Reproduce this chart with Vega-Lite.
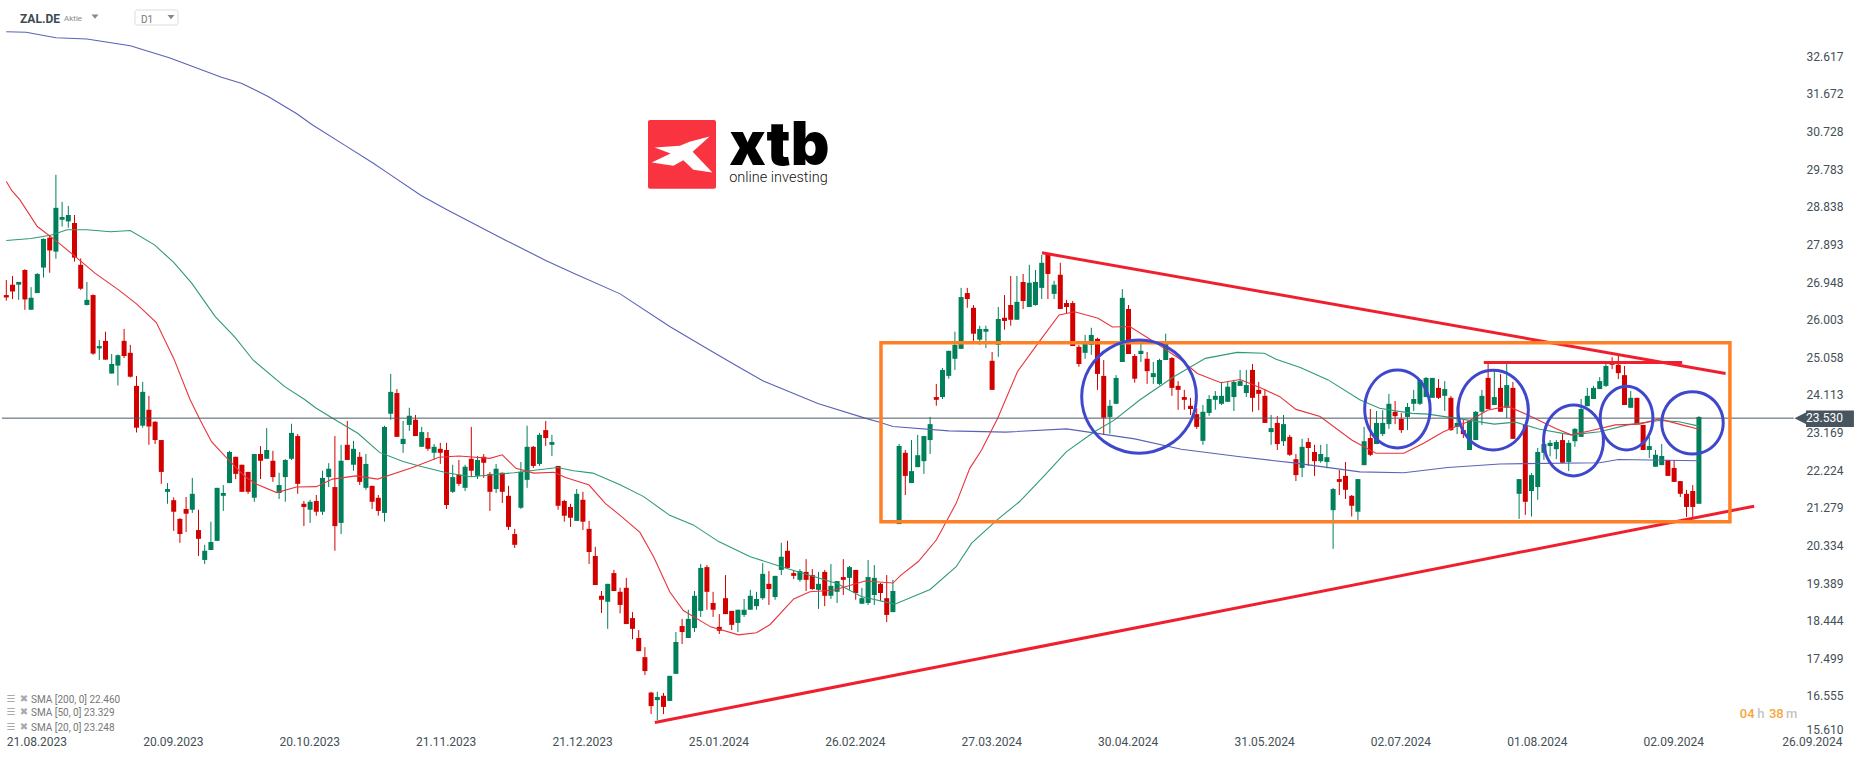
{
  "$schema": "https://vega.github.io/schema/vega-lite/v6.json",
  "width": 1790,
  "height": 734,
  "autosize": "none",
  "padding": {"left": 0, "top": 0, "right": 76, "bottom": 25},
  "background": "white",
  "view": {"stroke": null},
  "config": {"font": "Roboto"},
  "datasets": {
    "candles": [
      {"t":0,"o":26.62,"h":27.00,"l":26.48,"c":26.56},{"t":1,"o":26.88,"h":27.10,"l":26.52,"c":26.71},{"t":2,"o":26.88,"h":26.95,"l":26.50,"c":26.95},{"t":3,"o":27.25,"h":27.27,"l":26.25,"c":26.51},{"t":4,"o":26.25,"h":26.82,"l":26.25,"c":26.55},{"t":5,"o":26.67,"h":27.17,"l":26.67,"c":27.15},{"t":6,"o":27.31,"h":28.04,"l":27.06,"c":28.03},{"t":7,"o":28.06,"h":28.13,"l":27.18,"c":27.74},{"t":8,"o":27.71,"h":29.64,"l":27.53,"c":28.81},{"t":9,"o":28.51,"h":28.96,"l":28.34,"c":28.58},
      {"t":10,"o":28.47,"h":28.86,"l":28.31,"c":28.63},{"t":11,"o":28.43,"h":28.63,"l":27.46,"c":27.56},{"t":12,"o":27.38,"h":27.54,"l":26.75,"c":26.78},{"t":13,"o":26.37,"h":26.95,"l":26.36,"c":26.50},{"t":14,"o":26.62,"h":26.64,"l":25.12,"c":25.15},{"t":15,"o":25.28,"h":25.49,"l":24.99,"c":25.34},{"t":16,"o":25.47,"h":25.70,"l":24.99,"c":25.00},{"t":17,"o":24.65,"h":25.14,"l":24.65,"c":24.89},{"t":18,"o":24.85,"h":25.13,"l":24.35,"c":25.11},{"t":19,"o":25.47,"h":25.77,"l":25.04,"c":25.09},
      {"t":20,"o":25.17,"h":25.37,"l":24.55,"c":24.57},{"t":21,"o":24.34,"h":24.59,"l":23.17,"c":23.29},{"t":22,"o":23.34,"h":24.44,"l":23.29,"c":24.19},{"t":23,"o":23.74,"h":24.09,"l":22.86,"c":23.32},{"t":24,"o":23.44,"h":23.45,"l":22.88,"c":22.98},{"t":25,"o":22.98,"h":22.98,"l":21.88,"c":22.18},{"t":26,"o":21.68,"h":21.90,"l":21.38,"c":21.75},{"t":27,"o":21.47,"h":21.54,"l":20.70,"c":21.18},{"t":28,"o":21.00,"h":21.02,"l":20.40,"c":20.62},{"t":29,"o":21.25,"h":21.55,"l":20.67,"c":21.13},
      {"t":30,"o":21.23,"h":22.03,"l":21.15,"c":21.63},{"t":31,"o":20.72,"h":21.23,"l":20.07,"c":20.50},{"t":32,"o":19.97,"h":20.35,"l":19.87,"c":20.20},{"t":33,"o":20.22,"h":20.93,"l":20.22,"c":20.42},{"t":34,"o":20.45,"h":21.78,"l":20.45,"c":21.78},{"t":35,"o":21.58,"h":21.85,"l":21.20,"c":21.65},{"t":36,"o":21.90,"h":22.71,"l":21.90,"c":22.68},{"t":37,"o":22.56,"h":22.56,"l":22.00,"c":22.13},{"t":38,"o":22.36,"h":22.36,"l":21.68,"c":21.68},{"t":39,"o":22.18,"h":22.18,"l":21.63,"c":21.68},
      {"t":40,"o":21.53,"h":22.63,"l":21.43,"c":22.63},{"t":41,"o":22.63,"h":22.83,"l":22.00,"c":22.46},{"t":42,"o":22.51,"h":23.28,"l":22.51,"c":22.73},{"t":43,"o":22.46,"h":22.71,"l":21.93,"c":22.05},{"t":44,"o":21.65,"h":22.16,"l":21.50,"c":21.85},{"t":45,"o":22.05,"h":22.50,"l":21.43,"c":22.48},{"t":46,"o":22.51,"h":23.39,"l":22.48,"c":23.16},{"t":47,"o":23.08,"h":23.13,"l":21.63,"c":21.88},{"t":48,"o":21.38,"h":21.45,"l":20.82,"c":21.30},{"t":49,"o":21.23,"h":21.48,"l":20.90,"c":21.43},
      {"t":50,"o":21.45,"h":21.60,"l":21.08,"c":21.18},{"t":51,"o":21.18,"h":22.21,"l":21.10,"c":22.03},{"t":52,"o":22.05,"h":22.40,"l":21.80,"c":22.26},{"t":53,"o":21.80,"h":23.08,"l":20.20,"c":20.82},{"t":54,"o":20.90,"h":22.86,"l":20.62,"c":22.46},{"t":55,"o":22.86,"h":23.46,"l":22.48,"c":22.48},{"t":56,"o":22.36,"h":22.96,"l":22.21,"c":22.76},{"t":57,"o":22.56,"h":22.68,"l":21.85,"c":21.93},{"t":58,"o":21.78,"h":22.63,"l":21.73,"c":22.38},{"t":59,"o":21.83,"h":21.83,"l":21.25,"c":21.43},
      {"t":60,"o":21.53,"h":21.60,"l":21.08,"c":21.20},{"t":61,"o":21.15,"h":23.34,"l":20.93,"c":23.31},{"t":62,"o":23.64,"h":24.64,"l":23.49,"c":24.19},{"t":63,"o":24.16,"h":24.26,"l":23.06,"c":23.06},{"t":64,"o":22.88,"h":23.46,"l":22.66,"c":23.01},{"t":65,"o":23.36,"h":23.79,"l":23.21,"c":23.59},{"t":66,"o":23.49,"h":23.61,"l":23.08,"c":23.08},{"t":67,"o":22.81,"h":23.31,"l":22.81,"c":23.18},{"t":68,"o":23.03,"h":23.18,"l":22.71,"c":22.76},{"t":69,"o":22.66,"h":22.88,"l":22.48,"c":22.81},
      {"t":70,"o":22.76,"h":22.91,"l":22.38,"c":22.66},{"t":71,"o":22.73,"h":22.91,"l":21.25,"c":21.35},{"t":72,"o":21.68,"h":22.36,"l":21.65,"c":22.05},{"t":73,"o":22.11,"h":22.48,"l":21.83,"c":21.88},{"t":74,"o":21.78,"h":22.36,"l":21.70,"c":22.31},{"t":75,"o":22.51,"h":23.31,"l":22.05,"c":22.21},{"t":76,"o":22.08,"h":22.58,"l":22.00,"c":22.48},{"t":77,"o":22.56,"h":22.63,"l":22.03,"c":22.41},{"t":78,"o":22.13,"h":22.18,"l":21.20,"c":21.68},{"t":79,"o":21.75,"h":22.38,"l":21.65,"c":22.26},
      {"t":80,"o":22.16,"h":22.16,"l":21.40,"c":21.68},{"t":81,"o":21.58,"h":21.83,"l":20.72,"c":20.80},{"t":82,"o":20.62,"h":20.75,"l":20.27,"c":20.35},{"t":83,"o":21.28,"h":22.43,"l":21.25,"c":22.18},{"t":84,"o":21.98,"h":23.34,"l":21.78,"c":22.81},{"t":85,"o":22.81,"h":22.83,"l":22.28,"c":22.33},{"t":86,"o":22.38,"h":23.16,"l":22.33,"c":23.11},{"t":87,"o":23.23,"h":23.46,"l":22.83,"c":23.03},{"t":88,"o":22.86,"h":23.11,"l":22.58,"c":22.93},{"t":89,"o":22.33,"h":22.33,"l":21.23,"c":21.33},
      {"t":90,"o":21.45,"h":21.48,"l":20.93,"c":21.08},{"t":91,"o":21.30,"h":21.38,"l":20.80,"c":21.03},{"t":92,"o":20.95,"h":21.75,"l":20.95,"c":21.63},{"t":93,"o":21.48,"h":21.68,"l":20.72,"c":20.93},{"t":94,"o":20.75,"h":20.95,"l":19.87,"c":20.17},{"t":95,"o":20.07,"h":20.30,"l":19.34,"c":19.34},{"t":96,"o":19.07,"h":19.19,"l":18.64,"c":18.97},{"t":97,"o":18.92,"h":19.37,"l":18.24,"c":19.37},{"t":98,"o":19.64,"h":19.72,"l":19.19,"c":19.19},{"t":99,"o":19.17,"h":19.27,"l":18.63,"c":18.84},
      {"t":100,"o":19.27,"h":19.52,"l":18.36,"c":18.36},{"t":101,"o":18.51,"h":18.66,"l":17.98,"c":18.24},{"t":102,"o":18.01,"h":18.21,"l":17.68,"c":17.68},{"t":103,"o":17.53,"h":17.78,"l":17.08,"c":17.18},{"t":104,"o":16.64,"h":16.66,"l":16.10,"c":16.30},{"t":105,"o":16.45,"h":16.66,"l":15.95,"c":16.53},{"t":106,"o":16.56,"h":16.63,"l":16.10,"c":16.28},{"t":107,"o":16.43,"h":17.06,"l":16.43,"c":17.06},{"t":108,"o":17.11,"h":18.16,"l":17.11,"c":17.91},{"t":109,"o":18.31,"h":18.49,"l":17.86,"c":18.16},
      {"t":110,"o":18.01,"h":18.72,"l":18.01,"c":18.49},{"t":111,"o":18.26,"h":19.19,"l":18.16,"c":19.07},{"t":112,"o":18.69,"h":19.87,"l":18.54,"c":19.77},{"t":113,"o":19.79,"h":19.84,"l":18.72,"c":19.17},{"t":114,"o":18.89,"h":19.17,"l":18.54,"c":18.72},{"t":115,"o":18.29,"h":18.61,"l":18.11,"c":18.19},{"t":116,"o":19.01,"h":19.59,"l":18.61,"c":18.61},{"t":117,"o":18.69,"h":18.69,"l":18.21,"c":18.34},{"t":118,"o":18.39,"h":18.72,"l":18.16,"c":18.72},{"t":119,"o":18.59,"h":18.99,"l":18.54,"c":18.72},
      {"t":120,"o":18.72,"h":19.22,"l":18.72,"c":19.07},{"t":121,"o":18.81,"h":19.17,"l":18.72,"c":18.99},{"t":122,"o":19.01,"h":19.89,"l":18.97,"c":19.62},{"t":123,"o":19.37,"h":19.69,"l":18.84,"c":19.24},{"t":124,"o":19.04,"h":19.57,"l":18.97,"c":19.57},{"t":125,"o":19.72,"h":20.40,"l":19.59,"c":20.05},{"t":126,"o":20.20,"h":20.45,"l":19.77,"c":19.77},{"t":127,"o":19.64,"h":19.72,"l":19.49,"c":19.57},{"t":128,"o":19.47,"h":19.74,"l":19.42,"c":19.69},{"t":129,"o":19.67,"h":19.99,"l":19.19,"c":19.47},
      {"t":130,"o":19.59,"h":19.74,"l":19.22,"c":19.24},{"t":131,"o":19.22,"h":19.67,"l":18.74,"c":19.37},{"t":132,"o":19.67,"h":19.72,"l":18.81,"c":19.07},{"t":133,"o":19.07,"h":19.87,"l":18.99,"c":19.32},{"t":134,"o":19.17,"h":19.44,"l":18.89,"c":19.44},{"t":135,"o":19.54,"h":19.99,"l":19.09,"c":19.47},{"t":136,"o":19.52,"h":19.82,"l":19.22,"c":19.79},{"t":137,"o":19.72,"h":19.72,"l":18.97,"c":19.14},{"t":138,"o":18.87,"h":19.27,"l":18.87,"c":19.01},{"t":139,"o":18.89,"h":19.97,"l":18.84,"c":19.54},
      {"t":140,"o":19.09,"h":19.84,"l":18.84,"c":19.52},{"t":141,"o":19.37,"h":19.39,"l":18.94,"c":19.14},{"t":142,"o":19.01,"h":19.59,"l":18.41,"c":18.59},{"t":143,"o":18.66,"h":19.47,"l":18.66,"c":19.19},{"t":144,"o":20.87,"h":22.88,"l":20.87,"c":22.83},{"t":145,"o":22.66,"h":22.73,"l":21.60,"c":22.08},{"t":146,"o":21.90,"h":22.98,"l":21.90,"c":22.20},{"t":147,"o":22.30,"h":23.11,"l":22.30,"c":22.60},{"t":148,"o":22.45,"h":23.08,"l":22.13,"c":23.08},{"t":149,"o":22.98,"h":23.56,"l":22.63,"c":23.38},
      {"t":150,"o":24.06,"h":24.39,"l":23.84,"c":23.99},{"t":151,"o":24.06,"h":24.79,"l":24.01,"c":24.74},{"t":152,"o":24.59,"h":25.22,"l":24.52,"c":25.22},{"t":153,"o":25.02,"h":25.70,"l":24.74,"c":25.37},{"t":154,"o":25.27,"h":26.80,"l":25.27,"c":26.57},{"t":155,"o":26.67,"h":26.80,"l":26.30,"c":26.52},{"t":156,"o":26.30,"h":26.37,"l":25.47,"c":25.65},{"t":157,"o":25.50,"h":25.85,"l":25.37,"c":25.77},{"t":158,"o":25.70,"h":25.85,"l":25.29,"c":25.77},{"t":159,"o":24.97,"h":25.19,"l":24.24,"c":24.24},
      {"t":160,"o":25.37,"h":26.32,"l":25.07,"c":26.02},{"t":161,"o":26.05,"h":26.62,"l":25.75,"c":25.97},{"t":162,"o":26.37,"h":27.10,"l":25.85,"c":26.00},{"t":163,"o":26.00,"h":27.10,"l":26.00,"c":26.45},{"t":164,"o":26.95,"h":27.15,"l":26.27,"c":26.47},{"t":165,"o":26.32,"h":27.38,"l":26.32,"c":26.93},{"t":166,"o":26.37,"h":27.25,"l":26.35,"c":26.95},{"t":167,"o":26.80,"h":27.63,"l":26.52,"c":27.43},{"t":168,"o":27.63,"h":27.68,"l":26.52,"c":27.15},{"t":169,"o":26.65,"h":26.98,"l":26.52,"c":26.88},
      {"t":170,"o":27.13,"h":27.43,"l":26.27,"c":26.27},{"t":171,"o":26.42,"h":26.50,"l":26.16,"c":26.32},{"t":172,"o":26.42,"h":26.47,"l":25.34,"c":25.34},{"t":173,"o":25.32,"h":25.37,"l":24.82,"c":24.89},{"t":174,"o":25.17,"h":25.62,"l":25.02,"c":25.39},{"t":175,"o":25.37,"h":25.80,"l":25.12,"c":25.62},{"t":176,"o":25.52,"h":25.55,"l":24.24,"c":24.64},{"t":177,"o":24.59,"h":24.99,"l":23.11,"c":23.54},{"t":178,"o":23.56,"h":23.99,"l":23.14,"c":23.84},{"t":179,"o":23.89,"h":24.61,"l":23.89,"c":24.54},
      {"t":180,"o":24.94,"h":26.77,"l":24.94,"c":26.55},{"t":181,"o":26.27,"h":26.37,"l":25.14,"c":25.14},{"t":182,"o":25.09,"h":25.14,"l":24.42,"c":24.52},{"t":183,"o":25.14,"h":25.39,"l":24.94,"c":25.22},{"t":184,"o":25.02,"h":25.19,"l":24.39,"c":24.71},{"t":185,"o":24.56,"h":24.94,"l":24.39,"c":24.66},{"t":186,"o":24.39,"h":25.02,"l":24.36,"c":24.99},{"t":187,"o":24.99,"h":25.65,"l":24.99,"c":25.39},{"t":188,"o":25.04,"h":25.06,"l":24.09,"c":24.29},{"t":189,"o":24.34,"h":24.46,"l":23.74,"c":24.24},
      {"t":190,"o":24.06,"h":24.24,"l":23.74,"c":23.99},{"t":191,"o":23.84,"h":24.04,"l":23.61,"c":23.76},{"t":192,"o":23.63,"h":23.78,"l":23.26,"c":23.31},{"t":193,"o":22.96,"h":23.86,"l":22.86,"c":23.69},{"t":194,"o":23.66,"h":24.11,"l":23.59,"c":24.01},{"t":195,"o":23.99,"h":24.21,"l":23.74,"c":24.09},{"t":196,"o":23.89,"h":24.44,"l":23.86,"c":24.09},{"t":197,"o":23.94,"h":24.44,"l":23.94,"c":24.32},{"t":198,"o":24.06,"h":24.49,"l":23.71,"c":24.44},{"t":199,"o":24.34,"h":24.74,"l":24.34,"c":24.46},
      {"t":200,"o":24.16,"h":24.74,"l":24.06,"c":24.36},{"t":201,"o":24.74,"h":24.89,"l":23.69,"c":24.04},{"t":202,"o":24.24,"h":24.44,"l":23.73,"c":24.14},{"t":203,"o":24.09,"h":24.26,"l":23.41,"c":23.41},{"t":204,"o":23.18,"h":23.61,"l":22.86,"c":23.28},{"t":205,"o":23.41,"h":23.58,"l":22.73,"c":22.88},{"t":206,"o":22.95,"h":23.61,"l":22.83,"c":23.38},{"t":207,"o":23.06,"h":23.11,"l":22.58,"c":22.61},{"t":208,"o":22.50,"h":22.63,"l":21.95,"c":22.10},{"t":209,"o":22.28,"h":23.01,"l":22.05,"c":22.81},
      {"t":210,"o":22.93,"h":23.03,"l":22.33,"c":22.78},{"t":211,"o":22.68,"h":22.86,"l":22.08,"c":22.45},{"t":212,"o":22.45,"h":22.86,"l":22.41,"c":22.63},{"t":213,"o":22.43,"h":22.88,"l":22.27,"c":22.55},{"t":214,"o":21.22,"h":21.78,"l":20.25,"c":21.75},{"t":215,"o":22.00,"h":22.23,"l":21.60,"c":21.93},{"t":216,"o":22.08,"h":22.43,"l":21.50,"c":21.73},{"t":217,"o":21.58,"h":21.60,"l":21.06,"c":21.33},{"t":218,"o":21.18,"h":22.00,"l":20.97,"c":22.00},{"t":219,"o":22.35,"h":23.31,"l":22.35,"c":22.95},
      {"t":220,"o":23.03,"h":23.76,"l":22.58,"c":22.61},{"t":221,"o":22.88,"h":23.71,"l":22.88,"c":23.41},{"t":222,"o":23.13,"h":23.73,"l":23.08,"c":23.41},{"t":223,"o":23.38,"h":24.14,"l":23.26,"c":23.89},{"t":224,"o":23.69,"h":23.96,"l":23.38,"c":23.58},{"t":225,"o":23.51,"h":23.66,"l":23.16,"c":23.23},{"t":226,"o":23.56,"h":23.91,"l":23.23,"c":23.81},{"t":227,"o":23.89,"h":24.24,"l":23.71,"c":24.01},{"t":228,"o":23.89,"h":24.49,"l":23.86,"c":24.49},{"t":229,"o":24.06,"h":24.56,"l":24.06,"c":24.54},
      {"t":230,"o":24.04,"h":24.54,"l":24.04,"c":24.54},{"t":231,"o":24.29,"h":24.51,"l":24.01,"c":24.04},{"t":232,"o":24.09,"h":24.46,"l":23.71,"c":24.26},{"t":233,"o":24.04,"h":24.09,"l":23.21,"c":23.23},{"t":234,"o":23.31,"h":23.82,"l":23.13,"c":23.41},{"t":235,"o":23.23,"h":23.48,"l":23.03,"c":23.13},{"t":236,"o":22.73,"h":23.48,"l":22.73,"c":23.46},{"t":237,"o":22.98,"h":23.71,"l":22.98,"c":23.69},{"t":238,"o":23.69,"h":24.24,"l":23.36,"c":24.09},{"t":239,"o":24.54,"h":24.89,"l":23.76,"c":23.76},
      {"t":240,"o":23.86,"h":24.74,"l":23.86,"c":24.06},{"t":241,"o":24.29,"h":24.64,"l":23.69,"c":23.69},{"t":242,"o":23.79,"h":24.89,"l":23.53,"c":24.36},{"t":243,"o":24.29,"h":24.44,"l":23.01,"c":23.01},{"t":244,"o":21.63,"h":22.00,"l":21.00,"c":22.00},{"t":245,"o":23.36,"h":23.36,"l":21.10,"c":21.43},{"t":246,"o":21.70,"h":22.15,"l":21.06,"c":22.10},{"t":247,"o":21.80,"h":22.78,"l":21.48,"c":22.68},{"t":248,"o":22.66,"h":22.98,"l":22.48,"c":22.88},{"t":249,"o":22.83,"h":22.98,"l":22.57,"c":22.91},
      {"t":250,"o":22.75,"h":22.98,"l":22.50,"c":22.93},{"t":251,"o":22.98,"h":23.13,"l":22.40,"c":22.41},{"t":252,"o":22.43,"h":22.98,"l":22.20,"c":22.91},{"t":253,"o":22.95,"h":23.28,"l":22.81,"c":23.26},{"t":254,"o":23.06,"h":24.01,"l":23.06,"c":23.76},{"t":255,"o":23.83,"h":24.29,"l":23.83,"c":24.09},{"t":256,"o":24.01,"h":24.34,"l":24.01,"c":24.29},{"t":257,"o":24.26,"h":24.56,"l":24.26,"c":24.46},{"t":258,"o":24.34,"h":24.89,"l":24.31,"c":24.84},{"t":259,"o":24.94,"h":25.06,"l":24.76,"c":24.87},
      {"t":260,"o":24.87,"h":25.14,"l":24.51,"c":24.66},{"t":261,"o":24.61,"h":24.84,"l":23.86,"c":23.86},{"t":262,"o":23.79,"h":24.21,"l":23.79,"c":24.04},{"t":263,"o":24.04,"h":24.04,"l":23.38,"c":23.38},{"t":264,"o":23.36,"h":23.36,"l":22.73,"c":22.73},{"t":265,"o":22.73,"h":23.06,"l":22.53,"c":22.83},{"t":266,"o":22.31,"h":22.73,"l":22.31,"c":22.61},{"t":267,"o":22.35,"h":22.88,"l":22.35,"c":22.58},{"t":268,"o":22.48,"h":22.48,"l":22.08,"c":22.08},{"t":269,"o":22.28,"h":22.48,"l":21.93,"c":21.93},
      {"t":270,"o":21.95,"h":21.95,"l":21.55,"c":21.63},{"t":271,"o":21.63,"h":21.73,"l":21.05,"c":21.30},{"t":272,"o":21.70,"h":21.85,"l":21.05,"c":21.30},{"t":273,"o":21.38,"h":23.58,"l":21.38,"c":23.56}
    ],
    "sma": [
      {"series":"SMA 200","t":0,"p":33.23},{"series":"SMA 200","t":3.2,"p":33.22},{"series":"SMA 200","t":8,"p":33.08},{"series":"SMA 200","t":13,"p":33.05},{"series":"SMA 200","t":20,"p":32.88},{"series":"SMA 200","t":26.4,"p":32.57},{"series":"SMA 200","t":34.7,"p":32.09},{"series":"SMA 200","t":37.9,"p":31.94},{"series":"SMA 200","t":42.3,"p":31.6},{"series":"SMA 200","t":46.8,"p":31.18},{"series":"SMA 200","t":49.4,"p":30.89},{"series":"SMA 200","t":54.5,"p":30.39},{"series":"SMA 200","t":59.2,"p":29.93},{"series":"SMA 200","t":61.2,"p":29.72},{"series":"SMA 200","t":66.9,"p":29.12},{"series":"SMA 200","t":71,"p":28.77},{"series":"SMA 200","t":76.8,"p":28.3},{"series":"SMA 200","t":80.6,"p":27.99},{"series":"SMA 200","t":87,"p":27.49},{"series":"SMA 200","t":91.5,"p":27.17},{"series":"SMA 200","t":99,"p":26.65},{"series":"SMA 200","t":107,"p":25.83},{"series":"SMA 200","t":113,"p":25.28},{"series":"SMA 200","t":117.5,"p":24.87},{"series":"SMA 200","t":122,"p":24.47},{"series":"SMA 200","t":130.9,"p":23.9},{"series":"SMA 200","t":138.5,"p":23.53},{"series":"SMA 200","t":141,"p":23.42},{"series":"SMA 200","t":143,"p":23.32},{"series":"SMA 200","t":152,"p":23.21},{"series":"SMA 200","t":161.2,"p":23.18},{"series":"SMA 200","t":171,"p":23.26},{"series":"SMA 200","t":182,"p":23.01},{"series":"SMA 200","t":189.5,"p":22.75},{"series":"SMA 200","t":199,"p":22.56},{"series":"SMA 200","t":208,"p":22.4},{"series":"SMA 200","t":218.3,"p":22.18},{"series":"SMA 200","t":225.4,"p":22.16},{"series":"SMA 200","t":232.5,"p":22.29},{"series":"SMA 200","t":240.9,"p":22.38},{"series":"SMA 200","t":257,"p":22.41},{"series":"SMA 200","t":260,"p":22.49},{"series":"SMA 200","t":273,"p":22.46},
      {"series":"SMA 50","t":0,"p":27.99},{"series":"SMA 50","t":4,"p":28.04},{"series":"SMA 50","t":7.3,"p":28.13},{"series":"SMA 50","t":9.8,"p":28.26},{"series":"SMA 50","t":13,"p":28.26},{"series":"SMA 50","t":16.8,"p":28.21},{"series":"SMA 50","t":20,"p":28.24},{"series":"SMA 50","t":23.9,"p":27.88},{"series":"SMA 50","t":27,"p":27.44},{"series":"SMA 50","t":29.9,"p":26.92},{"series":"SMA 50","t":33.7,"p":26.08},{"series":"SMA 50","t":36.9,"p":25.56},{"series":"SMA 50","t":39.8,"p":24.99},{"series":"SMA 50","t":44.9,"p":24.32},{"series":"SMA 50","t":48,"p":24.01},{"series":"SMA 50","t":50,"p":23.78},{"series":"SMA 50","t":52.9,"p":23.5},{"series":"SMA 50","t":56.7,"p":23.15},{"series":"SMA 50","t":60.2,"p":22.67},{"series":"SMA 50","t":64,"p":22.44},{"series":"SMA 50","t":66.6,"p":22.33},{"series":"SMA 50","t":71,"p":22.16},{"series":"SMA 50","t":74.9,"p":22.06},{"series":"SMA 50","t":81.9,"p":22.16},{"series":"SMA 50","t":88.9,"p":22.29},{"series":"SMA 50","t":91.5,"p":22.21},{"series":"SMA 50","t":94.6,"p":22.15},{"series":"SMA 50","t":99,"p":21.86},{"series":"SMA 50","t":102.8,"p":21.56},{"series":"SMA 50","t":107,"p":21.09},{"series":"SMA 50","t":110.8,"p":20.85},{"series":"SMA 50","t":114.9,"p":20.43},{"series":"SMA 50","t":120,"p":20.05},{"series":"SMA 50","t":125.8,"p":19.76},{"series":"SMA 50","t":134,"p":19.38},{"series":"SMA 50","t":137.9,"p":19.05},{"series":"SMA 50","t":143.3,"p":18.86},{"series":"SMA 50","t":149,"p":19.23},{"series":"SMA 50","t":153.2,"p":19.8},{"series":"SMA 50","t":155.7,"p":20.39},{"series":"SMA 50","t":159.9,"p":20.99},{"series":"SMA 50","t":163.4,"p":21.43},{"series":"SMA 50","t":167.5,"p":22.1},{"series":"SMA 50","t":171,"p":22.69},{"series":"SMA 50","t":175.5,"p":23.19},{"series":"SMA 50","t":178.7,"p":23.48},{"series":"SMA 50","t":182.8,"p":23.985},{"series":"SMA 50","t":188.3,"p":24.57},{"series":"SMA 50","t":193.4,"p":25.03},{"series":"SMA 50","t":198.5,"p":25.18},{"series":"SMA 50","t":202.9,"p":25.16},{"series":"SMA 50","t":204.8,"p":25.01},{"series":"SMA 50","t":208.7,"p":24.8},{"series":"SMA 50","t":213.2,"p":24.49},{"series":"SMA 50","t":218.3,"p":23.99},{"series":"SMA 50","t":221.5,"p":23.78},{"series":"SMA 50","t":226.7,"p":23.65},{"series":"SMA 50","t":229.3,"p":23.63},{"series":"SMA 50","t":235,"p":23.5},{"series":"SMA 50","t":240,"p":23.38},{"series":"SMA 50","t":243.4,"p":23.43},{"series":"SMA 50","t":247.3,"p":23.25},{"series":"SMA 50","t":252.4,"p":23.11},{"series":"SMA 50","t":257,"p":23.19},{"series":"SMA 50","t":261.5,"p":23.36},{"series":"SMA 50","t":266.6,"p":23.47},{"series":"SMA 50","t":269.8,"p":23.44},{"series":"SMA 50","t":273,"p":23.33},
      {"series":"SMA 20","t":0,"p":29.47},{"series":"SMA 20","t":0.9,"p":29.24},{"series":"SMA 20","t":2.2,"p":29.01},{"series":"SMA 20","t":5,"p":28.34},{"series":"SMA 20","t":7.9,"p":28},{"series":"SMA 20","t":11.1,"p":27.59},{"series":"SMA 20","t":14.3,"p":27.17},{"series":"SMA 20","t":18.1,"p":26.75},{"series":"SMA 20","t":21,"p":26.4},{"series":"SMA 20","t":24.2,"p":25.93},{"series":"SMA 20","t":27,"p":25.03},{"series":"SMA 20","t":29.6,"p":24.01},{"series":"SMA 20","t":31.2,"p":23.5},{"series":"SMA 20","t":33.1,"p":22.94},{"series":"SMA 20","t":35.3,"p":22.57},{"series":"SMA 20","t":38.5,"p":22.06},{"series":"SMA 20","t":40.4,"p":21.87},{"series":"SMA 20","t":43.6,"p":21.66},{"series":"SMA 20","t":46.8,"p":21.8},{"series":"SMA 20","t":50,"p":21.81},{"series":"SMA 20","t":52.6,"p":22},{"series":"SMA 20","t":56.4,"p":22.08},{"series":"SMA 20","t":59.9,"p":22},{"series":"SMA 20","t":65.3,"p":22.28},{"series":"SMA 20","t":69.8,"p":22.55},{"series":"SMA 20","t":73,"p":22.58},{"series":"SMA 20","t":78,"p":22.52},{"series":"SMA 20","t":80,"p":22.61},{"series":"SMA 20","t":82.2,"p":22.27},{"series":"SMA 20","t":85.1,"p":22.15},{"series":"SMA 20","t":88.3,"p":22.17},{"series":"SMA 20","t":90.2,"p":22.04},{"series":"SMA 20","t":94,"p":21.85},{"series":"SMA 20","t":96.6,"p":21.39},{"series":"SMA 20","t":99,"p":21.09},{"series":"SMA 20","t":102.2,"p":20.66},{"series":"SMA 20","t":104.4,"p":20.05},{"series":"SMA 20","t":107,"p":19.17},{"series":"SMA 20","t":109.2,"p":18.7},{"series":"SMA 20","t":113.6,"p":18.29},{"series":"SMA 20","t":118.1,"p":18.09},{"series":"SMA 20","t":121,"p":18.14},{"series":"SMA 20","t":123.2,"p":18.35},{"series":"SMA 20","t":127,"p":18.99},{"series":"SMA 20","t":129.6,"p":19.17},{"series":"SMA 20","t":133.4,"p":19.21},{"series":"SMA 20","t":138.5,"p":19.44},{"series":"SMA 20","t":143,"p":19.39},{"series":"SMA 20","t":144.3,"p":19.59},{"series":"SMA 20","t":147.1,"p":19.93},{"series":"SMA 20","t":150,"p":20.47},{"series":"SMA 20","t":153.2,"p":21.39},{"series":"SMA 20","t":155.4,"p":22.27},{"series":"SMA 20","t":157.3,"p":22.73},{"series":"SMA 20","t":159.9,"p":23.53},{"series":"SMA 20","t":163.1,"p":24.7},{"series":"SMA 20","t":166.6,"p":25.45},{"series":"SMA 20","t":169.8,"p":26.12},{"series":"SMA 20","t":172.3,"p":26.2},{"series":"SMA 20","t":176.1,"p":26.04},{"series":"SMA 20","t":178.4,"p":25.82},{"series":"SMA 20","t":181.2,"p":25.83},{"series":"SMA 20","t":185.1,"p":25.45},{"series":"SMA 20","t":189.5,"p":24.99},{"series":"SMA 20","t":192.1,"p":24.65},{"series":"SMA 20","t":195.9,"p":24.42},{"series":"SMA 20","t":199,"p":24.5},{"series":"SMA 20","t":202.2,"p":24.3},{"series":"SMA 20","t":205.4,"p":24.07},{"series":"SMA 20","t":208,"p":23.75},{"series":"SMA 20","t":211.9,"p":23.57},{"series":"SMA 20","t":217,"p":22.98},{"series":"SMA 20","t":220.9,"p":22.65},{"series":"SMA 20","t":225.4,"p":22.65},{"series":"SMA 20","t":228.6,"p":22.9},{"series":"SMA 20","t":231.8,"p":23.19},{"series":"SMA 20","t":235.7,"p":23.44},{"series":"SMA 20","t":238.9,"p":23.73},{"series":"SMA 20","t":242.1,"p":23.83},{"series":"SMA 20","t":245.4,"p":23.61},{"series":"SMA 20","t":249.9,"p":23.27},{"series":"SMA 20","t":252.4,"p":23.11},{"series":"SMA 20","t":255.7,"p":23.22},{"series":"SMA 20","t":259.5,"p":23.36},{"series":"SMA 20","t":263.4,"p":23.38},{"series":"SMA 20","t":266.6,"p":23.51},{"series":"SMA 20","t":269.8,"p":23.38},{"series":"SMA 20","t":273,"p":23.25}
    ],
    "trend": [
      {"id":"upper","t":167.05,"p":27.68},{"id":"upper","t":277.3,"p":24.65},
      {"id":"lower","t":104.6,"p":15.89},{"id":"lower","t":281.9,"p":21.32},
      {"id":"flat","t":238.3,"p":24.93},{"id":"flat","t":270.3,"p":24.93}
    ],
    "rings": [
      {"id":1,"k":0,"t":191.95,"p":24.07},{"id":1,"k":1,"t":190.71,"p":24.78},{"id":1,"k":2,"t":187.32,"p":25.3},{"id":1,"k":3,"t":182.7,"p":25.49},{"id":1,"k":4,"t":178.08,"p":25.3},{"id":1,"k":5,"t":174.69,"p":24.78},{"id":1,"k":6,"t":173.45,"p":24.07},{"id":1,"k":7,"t":174.69,"p":23.36},{"id":1,"k":8,"t":178.08,"p":22.84},{"id":1,"k":9,"t":182.7,"p":22.65},{"id":1,"k":10,"t":187.32,"p":22.84},{"id":1,"k":11,"t":190.71,"p":23.36},
      {"id":2,"k":0,"t":229.65,"p":23.76},{"id":2,"k":1,"t":228.94,"p":24.25},{"id":2,"k":2,"t":227.01,"p":24.61},{"id":2,"k":3,"t":224.37,"p":24.74},{"id":2,"k":4,"t":221.73,"p":24.61},{"id":2,"k":5,"t":219.8,"p":24.25},{"id":2,"k":6,"t":219.09,"p":23.76},{"id":2,"k":7,"t":219.8,"p":23.27},{"id":2,"k":8,"t":221.73,"p":22.91},{"id":2,"k":9,"t":224.37,"p":22.78},{"id":2,"k":10,"t":227.01,"p":22.91},{"id":2,"k":11,"t":228.94,"p":23.27},
      {"id":3,"k":0,"t":245.49,"p":23.73},{"id":3,"k":1,"t":244.73,"p":24.23},{"id":3,"k":2,"t":242.66,"p":24.6},{"id":3,"k":3,"t":239.82,"p":24.73},{"id":3,"k":4,"t":236.98,"p":24.6},{"id":3,"k":5,"t":234.91,"p":24.23},{"id":3,"k":6,"t":234.15,"p":23.73},{"id":3,"k":7,"t":234.91,"p":23.23},{"id":3,"k":8,"t":236.98,"p":22.86},{"id":3,"k":9,"t":239.82,"p":22.73},{"id":3,"k":10,"t":242.66,"p":22.86},{"id":3,"k":11,"t":244.73,"p":23.23},
      {"id":4,"k":0,"t":257.6,"p":22.97},{"id":4,"k":1,"t":256.95,"p":23.42},{"id":4,"k":2,"t":255.19,"p":23.74},{"id":4,"k":3,"t":252.77,"p":23.86},{"id":4,"k":4,"t":250.35,"p":23.74},{"id":4,"k":5,"t":248.59,"p":23.42},{"id":4,"k":6,"t":247.94,"p":22.97},{"id":4,"k":7,"t":248.59,"p":22.52},{"id":4,"k":8,"t":250.35,"p":22.2},{"id":4,"k":9,"t":252.77,"p":22.08},{"id":4,"k":10,"t":255.19,"p":22.2},{"id":4,"k":11,"t":256.95,"p":22.52},
      {"id":5,"k":0,"t":265.58,"p":23.53},{"id":5,"k":1,"t":265.01,"p":23.93},{"id":5,"k":2,"t":263.46,"p":24.22},{"id":5,"k":3,"t":261.33,"p":24.33},{"id":5,"k":4,"t":259.2,"p":24.22},{"id":5,"k":5,"t":257.65,"p":23.93},{"id":5,"k":6,"t":257.08,"p":23.53},{"id":5,"k":7,"t":257.65,"p":23.13},{"id":5,"k":8,"t":259.2,"p":22.84},{"id":5,"k":9,"t":261.33,"p":22.73},{"id":5,"k":10,"t":263.46,"p":22.84},{"id":5,"k":11,"t":265.01,"p":23.13},
      {"id":6,"k":0,"t":276.92,"p":23.41},{"id":6,"k":1,"t":276.26,"p":23.8},{"id":6,"k":2,"t":274.44,"p":24.09},{"id":6,"k":3,"t":271.96,"p":24.19},{"id":6,"k":4,"t":269.48,"p":24.09},{"id":6,"k":5,"t":267.66,"p":23.8},{"id":6,"k":6,"t":267,"p":23.41},{"id":6,"k":7,"t":267.66,"p":23.02},{"id":6,"k":8,"t":269.48,"p":22.73},{"id":6,"k":9,"t":271.96,"p":22.63},{"id":6,"k":10,"t":274.44,"p":22.73},{"id":6,"k":11,"t":276.26,"p":23.02}
    ]
  },
  "encoding": {
    "x": {
      "field": "t",
      "type": "quantitative",
      "scale": {"domain": [-1.016, 287.69], "nice": false, "zero": false, "padding": 0},
      "axis": {
        "title": null,
        "grid": false,
        "domain": false,
        "ticks": false,
        "values": [0, 22, 44, 66, 88, 110, 132, 154, 176, 198, 220, 242, 264, 286.36],
        "labelExpr": "{'0':'21.08.2023','22':'20.09.2023','44':'20.10.2023','66':'21.11.2023','88':'21.12.2023','110':'25.01.2024','132':'26.02.2024','154':'27.03.2024','176':'30.04.2024','198':'31.05.2024','220':'02.07.2024','242':'01.08.2024','264':'02.09.2024','286.36':'26.09.2024'}[datum.value]",
        "labelAlign": "left",
        "labelFont": "Roboto",
        "labelFontSize": 12,
        "labelColor": "#444f56",
        "labelPadding": 2,
        "labelOverlap": false,
        "labelBound": false,
        "labelFlush": false
      }
    },
    "y": {
      "field": "p",
      "type": "quantitative",
      "scale": {"domain": [15.6, 34.028], "nice": false, "zero": false, "padding": 0},
      "axis": {
        "title": null,
        "orient": "right",
        "grid": false,
        "domain": false,
        "ticks": false,
        "values": [32.617, 31.672, 30.728, 29.783, 28.838, 27.893, 26.948, 26.003, 25.058, 24.113, 23.169, 22.224, 21.279, 20.334, 19.389, 18.444, 17.499, 16.555, 15.725],
        "labelExpr": "datum.value < 15.8 ? '15.610' : format(datum.value, '.3f')",
        "labelFont": "Roboto",
        "labelFontSize": 12,
        "labelColor": "#444f56",
        "labelPadding": 16,
        "labelOverlap": false,
        "labelBound": false,
        "labelFlush": false
      }
    }
  },
  "layer": [
    {
      "data": {"name": "candles"},
      "mark": {"type": "rule", "strokeWidth": 1},
      "encoding": {
        "y": {"field": "l"},
        "y2": {"field": "h"},
        "color": {"condition": {"test": "datum.c >= datum.o", "value": "#00805a"}, "value": "#d30000"}
      }
    },
    {
      "data": {"name": "candles"},
      "mark": {"type": "bar", "width": 5, "orient": "vertical"},
      "encoding": {
        "y": {"field": "o"},
        "y2": {"field": "c"},
        "color": {"condition": {"test": "datum.c >= datum.o", "value": "#00805a"}, "value": "#d30000"}
      }
    },
    {
      "data": {"name": "sma"},
      "mark": {"type": "line", "strokeWidth": 1.1},
      "encoding": {
        "color": {
          "field": "series",
          "type": "nominal",
          "legend": null,
          "scale": {"domain": ["SMA 200", "SMA 50", "SMA 20"], "range": ["#5a62b8", "#2f9a76", "#e8343c"]}
        }
      }
    },
    {
      "data": {"values": [{"t": -0.7, "p": 23.53}, {"t": 288.3, "p": 23.53}]},
      "mark": {"type": "line", "color": "#4b5963", "strokeWidth": 1},
      "encoding": {}
    },
    {
      "data": {"name": "trend"},
      "mark": {"type": "line", "color": "#f01f2e", "strokeWidth": 3},
      "encoding": {"detail": {"field": "id"}}
    },
    {
      "data": {"values": [{"t": 141.08, "t2": 278, "p": 25.42, "p2": 20.93}]},
      "mark": {"type": "rect", "fill": null, "fillOpacity": 0, "stroke": "#ff7f27", "strokeWidth": 3.5},
      "encoding": {"x2": {"field": "t2"}, "y2": {"field": "p2"}}
    },
    {
      "data": {"name": "rings"},
      "mark": {"type": "line", "color": "#3f48cc", "strokeWidth": 3, "interpolate": "cardinal-closed"},
      "encoding": {"detail": {"field": "id"}, "order": {"field": "k"}}
    },
    {
      "data": {"values": [{"t": 290.27, "t2": 298, "p": 23.72, "p2": 23.31}]},
      "mark": {"type": "rect", "fill": "#47555f"},
      "encoding": {"x2": {"field": "t2"}, "y2": {"field": "p2"}}
    },
    {
      "data": {"values": [{"t": 289.7, "p": 23.53}]},
      "mark": {"type": "point", "shape": "M-1,0 L1,-1 L1,1 Z", "size": 256, "filled": true, "fill": "#47555f", "opacity": 1, "strokeWidth": 0}
    },
    {
      "data": {"values": [{"t": 290.27, "p": 23.53, "label": "23.530"}]},
      "mark": {"type": "text", "align": "left", "baseline": "middle", "font": "Roboto", "fontSize": 12, "fill": "white"},
      "encoding": {"text": {"field": "label"}}
    },
    {
      "data": {"values": [{"t": 103.5, "t2": 114.47, "p": 31.015, "p2": 29.29}]},
      "mark": {"type": "rect", "fill": "#f93340", "cornerRadius": 2},
      "encoding": {"x2": {"field": "t2"}, "y2": {"field": "p2"}}
    },
    {
      "data": {"values": [{"t": 108.98, "p": 30.15}]},
      "mark": {"type": "point", "shape": "M.80,-.52 L.22,-.37 L-.06,-.25 L-.79,-.20 L-.33,-.03 L-.88,.23 L-.25,.33 L.04,.17 L.33,.44 L.88,.52 L.31,-.08 Z", "size": 4761, "filled": true, "fill": "white", "opacity": 1, "strokeWidth": 0}
    },
    {
      "data": {"values": [{"t": 116.6, "p": 29.885, "label": "xtb"}]},
      "mark": {"type": "text", "align": "left", "baseline": "alphabetic", "font": "Inter", "fontSize": 60, "fontWeight": 900, "fill": "#000000"},
      "encoding": {"text": {"field": "label"}}
    },
    {
      "data": {"values": [{"t": 116.6, "p": 29.566, "label": "online investing"}]},
      "mark": {"type": "text", "align": "left", "baseline": "middle", "font": "Roboto", "fontSize": 14.5, "fontWeight": 300, "fill": "#111111"},
      "encoding": {"text": {"field": "label"}}
    },
    {
      "data": {"values": [{"t": 2.21, "p": 33.55, "label": "ZAL.DE"}]},
      "mark": {"type": "text", "align": "left", "baseline": "middle", "font": "Roboto", "fontSize": 12, "fontWeight": 700, "fill": "#3d4a52"},
      "encoding": {"text": {"field": "label"}}
    },
    {
      "data": {"values": [{"t": 9.31, "p": 33.55, "label": "Aktie"}]},
      "mark": {"type": "text", "align": "left", "baseline": "middle", "font": "Roboto", "fontSize": 8, "fill": "#888888"},
      "encoding": {"text": {"field": "label"}}
    },
    {
      "data": {"values": [{"t": 20.76, "t2": 27.69, "p": 33.777, "p2": 33.4}]},
      "mark": {"type": "rect", "fill": "white", "stroke": "#dddddd", "strokeWidth": 1, "cornerRadius": 2},
      "encoding": {"x2": {"field": "t2"}, "y2": {"field": "p2"}}
    },
    {
      "data": {"values": [{"t": 21.73, "p": 33.53, "label": "D1"}]},
      "mark": {"type": "text", "align": "left", "baseline": "middle", "font": "Roboto", "fontSize": 10, "fill": "#777777"},
      "encoding": {"text": {"field": "label"}}
    },
    {
      "data": {"values": [{"t": 14.31, "p": 33.61}, {"t": 26.56, "p": 33.6}]},
      "mark": {"type": "point", "shape": "M-1,-.6 L1,-.6 L0,.6 Z", "size": 49, "filled": true, "fill": "#888888", "opacity": 1, "strokeWidth": 0}
    },
    {
      "data": {"values": [{"t": 3.98, "p": 16.45, "label": "SMA [200, 0] 22.460"}, {"t": 3.98, "p": 16.12, "label": "SMA [50, 0] 23.329"}, {"t": 3.98, "p": 15.76, "label": "SMA [20, 0] 23.248"}]},
      "mark": {"type": "text", "align": "left", "baseline": "middle", "font": "Roboto", "fontSize": 10, "fill": "#777777"},
      "encoding": {"text": {"field": "label"}}
    },
    {
      "data": {"values": [{"t": 0.76, "p": 16.47, "label": "☰"}, {"t": 0.76, "p": 16.14, "label": "☰"}, {"t": 0.76, "p": 15.78, "label": "☰"}, {"t": 2.85, "p": 16.47, "label": "✖"}, {"t": 2.85, "p": 16.14, "label": "✖"}, {"t": 2.85, "p": 15.78, "label": "✖"}]},
      "mark": {"type": "text", "align": "center", "baseline": "middle", "font": "DejaVu Sans", "fontSize": 10, "fill": "#aaaaaa"},
      "encoding": {"text": {"field": "label"}}
    },
    {
      "data": {"values": [{"t": 279.6, "p": 16.09, "label": "04"}, {"t": 284.3, "p": 16.09, "label": "38"}]},
      "mark": {"type": "text", "align": "left", "baseline": "middle", "font": "Roboto", "fontSize": 13, "fontWeight": 500, "fill": "#f7a540"},
      "encoding": {"text": {"field": "label"}}
    },
    {
      "data": {"values": [{"t": 282.4, "p": 16.09, "label": "h"}, {"t": 287.05, "p": 16.09, "label": "m"}]},
      "mark": {"type": "text", "align": "left", "baseline": "middle", "font": "Roboto", "fontSize": 13, "fontWeight": 500, "fill": "#c4c4c4"},
      "encoding": {"text": {"field": "label"}}
    }
  ]
}
